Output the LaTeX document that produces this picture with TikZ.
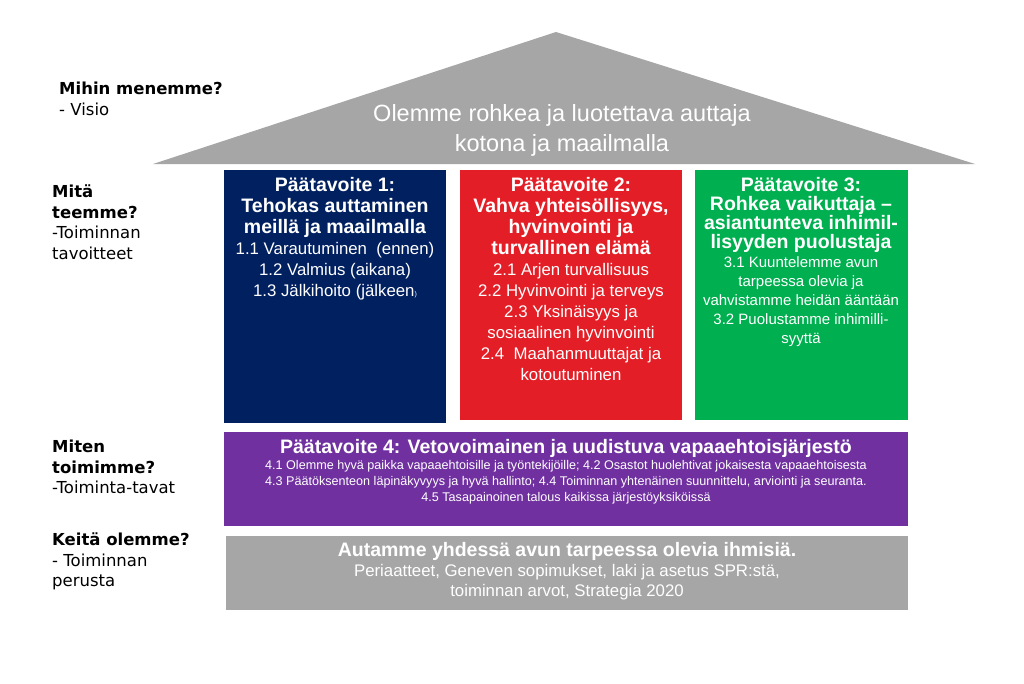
\documentclass[tikz,border=0pt]{standalone}
\usepackage{fontspec}
\setmainfont{Liberation Sans}
\newfontfamily\verd{DejaVu Sans}
\newcommand\tf{\bfseries\fontsize{19.5}{24}\selectfont}
\begin{document}
\begin{tikzpicture}[x=1pt,y=-1pt,
  wt/.style={text=white,align=center,inner sep=0pt},
  lab/.style={anchor=north west,align=left,font=\verd\fontsize{16.5}{20.5}\selectfont,inner sep=0pt}]
\definecolor{roofg}{HTML}{A6A6A6}
\definecolor{navy}{HTML}{002060}
\definecolor{redb}{HTML}{E41E26}
\definecolor{greenb}{HTML}{00B050}
\definecolor{purp}{HTML}{7030A0}
\useasboundingbox (0,0) rectangle (1024,683);
\fill[white] (0,0) rectangle (1024,683);
\fill[roofg] (556,32) -- (975,164) -- (153,164) -- cycle;
\node[wt,font=\fontsize{23.5}{30}\selectfont] (vis) at (562,130) {Olemme rohkea ja luotettava auttaja\\kotona ja maailmalla};
\fill[navy] (224,170) rectangle (446,423);
\fill[redb] (460,170) rectangle (682,420);
\fill[greenb] (695,170) rectangle (908,420);
\fill[purp] (224,432) rectangle (908,526);
\fill[roofg] (226,536) rectangle (908,610);
\node[wt,anchor=north,font=\fontsize{16.8}{21}\selectfont] (b1) at (335,177) {\tf Päätavoite 1:\\\tf Tehokas auttaminen\\\tf meillä ja maailmalla\\1.1 Varautuminen\ \ (ennen)\\1.2 Valmius (aikana)\\1.3 Jälkihoito (jälkeen\scriptsize)};
\node[wt,anchor=north,font=\fontsize{16.8}{21}\selectfont] (b2) at (571,177) {\tf Päätavoite 2:\\\tf Vahva yhteisöllisyys,\\\tf hyvinvointi ja\\\tf turvallinen elämä\\2.1 Arjen turvallisuus\\2.2 Hyvinvointi ja terveys\\2.3 Yksinäisyys ja\\sosiaalinen hyvinvointi\\2.4\ \ Maahanmuuttajat ja\\kotoutuminen};
\node[wt,anchor=north,font=\fontsize{15}{19}\selectfont] (b3) at (801,177) {\tf Päätavoite 3:\\\tf Rohkea vaikuttaja –\\\tf asiantunteva inhimil-\\\tf lisyyden puolustaja\\3.1 Kuuntelemme avun\\tarpeessa olevia ja\\vahvistamme heidän ääntään\\3.2 Puolustamme inhimilli-\\syyttä};
\node[wt,anchor=north,font=\fontsize{12.6}{16}\selectfont] (b4) at (566,439) {\bfseries\fontsize{19.5}{24}\selectfont Päätavoite 4: Vetovoimainen ja uudistuva vapaaehtoisjärjestö\\4.1 Olemme hyvä paikka vapaaehtoisille ja työntekijöille; 4.2 Osastot huolehtivat jokaisesta vapaaehtoisesta\\4.3 Päätöksenteon läpinäkyvyys ja hyvä hallinto; 4.4 Toiminnan yhtenäinen suunnittelu, arviointi ja seuranta.\\4.5 Tasapainoinen talous kaikissa järjestöyksiköissä};
\node[wt,anchor=north,font=\fontsize{16.8}{20}\selectfont] (b5) at (567,542) {\tf Autamme yhdessä avun tarpeessa olevia ihmisiä.\\Periaatteet, Geneven sopimukset, laki ja asetus SPR:stä,\\toiminnan arvot, Strategia 2020};
\node[lab] (l1) at (59,82) {\bfseries Mihin menemme?\\- Visio};
\node[lab] (l2) at (52,185) {\bfseries Mitä\\\bfseries teemme?\\-Toiminnan\\tavoitteet};
\node[lab] (l3) at (52,440) {\bfseries Miten\\\bfseries toimimme?\\-Toiminta-tavat};
\node[lab] (l4) at (52,533) {\bfseries Keitä olemme?\\- Toiminnan\\perusta};
\end{tikzpicture}
\end{document}
